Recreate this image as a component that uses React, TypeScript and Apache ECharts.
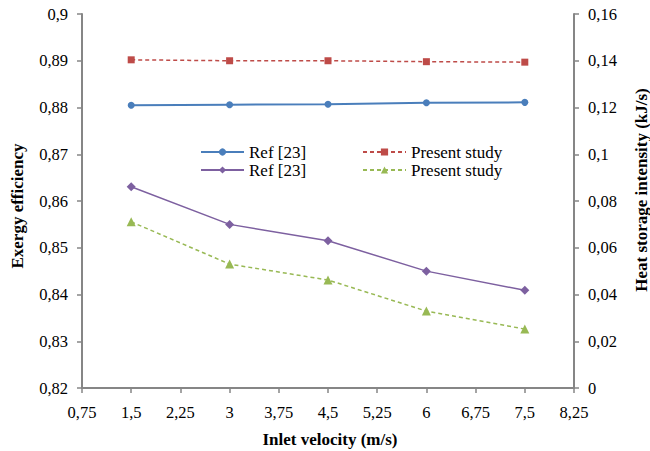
import React, { useEffect, useRef } from "react";
import * as echarts from "echarts";

const velocities = [1.5, 3, 4.5, 6, 7.5];
const refExergy = [0.8805, 0.8806, 0.8807, 0.881, 0.8811];
const presentExergy = [0.8902, 0.89, 0.89, 0.8898, 0.8897];
const refHeat = [0.0861, 0.07, 0.063, 0.05, 0.0418];
const presentHeat = [0.0711, 0.053, 0.0462, 0.0329, 0.0252];

const FONT = "Liberation Serif";
const AXIS_COLOR = "#868686";

const fmt = (v: number) => String(+Number(v).toFixed(2)).replace(".", ",");

const pairs = (ys: number[]) => velocities.map((x, i) => [x, ys[i]]);

export default function App() {
  const ref = useRef<HTMLDivElement>(null);
  useEffect(() => {
    if (!ref.current) return;
    const chart = echarts.init(ref.current, undefined, { renderer: "svg" });
    const axisCommon = {
      axisLine: { show: true, lineStyle: { color: AXIS_COLOR, width: 2 } },
      axisTick: { show: true, inside: false, length: 5, lineStyle: { color: AXIS_COLOR, width: 1.5 } },
      splitLine: { show: false },
      axisLabel: { color: "#000", fontFamily: FONT, fontSize: 16.5, formatter: fmt },
    };
    const titleStyle = {
      fontFamily: FONT,
      fontSize: 17,
      fontWeight: "bold",
      fill: "#000",
      align: "center",
      verticalAlign: "middle",
    };
    const legendCommon = {
      orient: "vertical",
      top: 143,
      padding: 0,
      itemWidth: 43,
      itemHeight: 9,
      itemGap: 0,
      formatter: (n: string) => n.trim(),
      textStyle: { fontFamily: FONT, fontSize: 17, color: "#000", lineHeight: 18, padding: [0, 0, 0, 0] },
      selectedMode: false,
    };
    chart.setOption({
      animation: false,
      backgroundColor: "#fff",
      textStyle: { fontFamily: FONT },
      grid: { left: 82, right: 76, top: 14, bottom: 63, containLabel: false },
      xAxis: {
        type: "value",
        min: 0.75,
        max: 8.25,
        interval: 0.75,
        ...axisCommon,
        axisLabel: { ...axisCommon.axisLabel, margin: 16 },
      },
      yAxis: [
        {
          type: "value",
          min: 0.82,
          max: 0.9,
          interval: 0.01,
          position: "left",
          ...axisCommon,
          axisLabel: { ...axisCommon.axisLabel, margin: 14 },
        },
        {
          type: "value",
          min: 0,
          max: 0.16,
          interval: 0.02,
          position: "right",
          ...axisCommon,
          axisLabel: { ...axisCommon.axisLabel, margin: 14 },
        },
      ],
      legend: [
        { ...legendCommon, left: 200, data: ["Ref [23]", "Ref [23] "] },
        { ...legendCommon, left: 362, data: ["Present study", "Present study "] },
      ],
      series: [
        {
          name: "Ref [23]",
          type: "line",
          yAxisIndex: 0,
          data: pairs(refExergy),
          symbol: "circle",
          symbolSize: 7,
          itemStyle: { color: "#4A7EBB" },
          lineStyle: { color: "#4A7EBB", width: 2 },
        },
        {
          name: "Present study",
          type: "line",
          yAxisIndex: 0,
          data: pairs(presentExergy),
          symbol: "rect",
          symbolSize: 7,
          itemStyle: { color: "#BE4B48" },
          lineStyle: { color: "#BE4B48", width: 1.5, type: [4, 3] },
        },
        {
          name: "Ref [23] ",
          type: "line",
          yAxisIndex: 1,
          data: pairs(refHeat),
          symbol: "diamond",
          symbolSize: 9,
          itemStyle: { color: "#7D60A0" },
          lineStyle: { color: "#7D60A0", width: 1.5 },
        },
        {
          name: "Present study ",
          type: "line",
          yAxisIndex: 1,
          data: pairs(presentHeat),
          symbol: "triangle",
          symbolSize: 9,
          itemStyle: { color: "#98B954" },
          lineStyle: { color: "#98B954", width: 1.5, type: [4, 3] },
        },
      ],
      graphic: [
        {
          type: "text",
          x: 17,
          y: 206,
          rotation: Math.PI / 2,
          style: { text: "Exergy efficiency", ...titleStyle },
        },
        {
          type: "text",
          x: 641,
          y: 190,
          rotation: Math.PI / 2,
          style: { text: "Heat storage intensity (kJ/s)", ...titleStyle },
        },
        {
          type: "text",
          x: 330,
          y: 439,
          style: { text: "Inlet velocity (m/s)", ...titleStyle },
        },
      ],
    });
    return () => chart.dispose();
  }, []);
  return <div ref={ref} style={{ width: 650, height: 451, position: "absolute", left: 0, top: 0 }} />;
}
